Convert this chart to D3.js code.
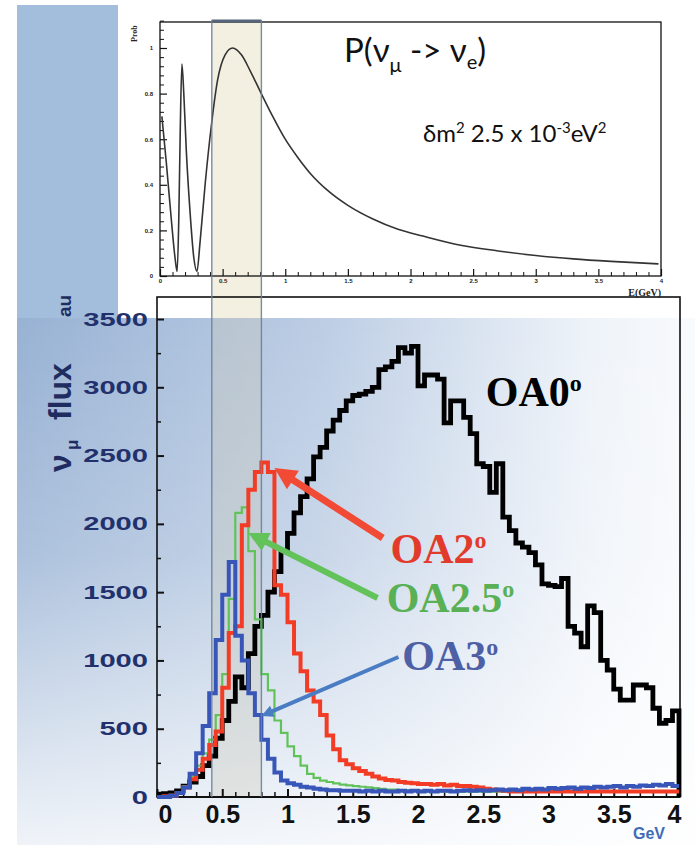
<!DOCTYPE html>
<meta charset="utf-8">
<script src="https://cdn.jsdelivr.net/npm/d3@7/dist/d3.min.js"></script>
<style>
body { margin: 0; background: #fff; }
path.histo { fill: none; stroke-linejoin: miter; }
.note { font-family: "Liberation Serif", "Times New Roman", serif; font-weight: bold; }
.tiny text { font-family: "Liberation Sans", Arial, sans-serif; font-size: 6px; font-weight: bold; fill: #222; }
</style>
<body>
<script>

// ---- data ----
var binWidth = 0.05;   // GeV per histogram bin, bins start at 0

var oa0Flux = [20,25,30,45,80,110,150,230,300,430,
  560,700,880,800,1050,1250,1330,1500,1650,1800,
  1930,2080,2200,2330,2490,2560,2680,2760,2830,2900,
  2940,2950,2970,3000,3130,3150,3190,3290,3250,3300,
  3010,3090,3090,3060,2740,2900,2900,2780,2660,2440,
  2420,2230,2440,2050,1950,1860,1830,1790,1700,1560,
  1550,1540,1600,1250,1200,1100,1400,1350,1000,930,
  790,710,710,820,820,800,650,540,560,630];

var oa2Flux = [0,5,10,30,70,130,200,280,380,480,
  800,1200,1250,1990,2250,2380,2450,2380,1550,1480,
  1280,1050,920,780,700,600,450,350,270,240,
  210,190,170,150,135,125,120,110,105,100,
  95,95,90,95,85,90,80,80,75,70,
  60,55,50,45,40,40,40,40,40,40,
  40,40,40,40,40,40,40,40,40,40,
  40,40,40,40,40,40,40,40,40,40];

var oa25Flux = [0,5,15,35,80,150,230,320,420,600,
  900,1450,2080,2120,1800,1300,900,780,560,470,
  370,300,230,170,140,120,110,100,90,85,
  80,75,70,65,60,55,55,50,50,45,
  45,40,40,40,40,40,40,40,40,40,
  40,40,40,40,40,40,40,40,40,40,
  40,40,40,40,40,40,40,40,40,40,
  40,40,40,40,40,40,40,40,40,40];

var oa3Flux = [0,0,10,30,70,170,320,520,760,1150,
  1480,1720,1180,1000,760,600,420,280,180,120,
  100,90,75,70,60,55,50,50,45,45,
  45,40,45,40,45,40,40,45,40,45,
  40,45,40,45,45,40,45,50,45,50,
  45,50,55,50,55,50,60,55,60,55,
  65,60,65,70,60,70,65,75,70,75,
  80,70,80,75,85,80,90,85,95,80];

var probEnergy = [0.015,0.05,0.09,0.12,0.137,0.15,0.162,0.175,0.19,0.21,0.24,0.27,0.295,0.32,0.36,
  0.41,0.46,0.52,0.58,0.65,0.72,0.80,0.90,1.0,1.1,1.2,1.35,1.5,1.7,1.9,2.1,2.4,2.7,3.0,3.3,3.6,3.98];
var probValue = [0.70,0.50,0.25,0.08,0.02,0.25,0.65,0.93,0.80,0.55,0.28,0.08,0.02,0.15,0.40,
  0.66,0.86,0.97,1.0,0.97,0.90,0.81,0.70,0.60,0.52,0.45,0.37,0.31,0.25,0.205,0.175,0.135,0.11,0.09,0.075,0.064,0.053];

var fluxTicks = [0,500,1000,1500,2000,2500,3000,3500];
var fluxTickLabels = ["0","500","1000","1500","2000","2500","3000","3500"];
var energyTicks = [0,0.5,1,1.5,2,2.5,3,3.5,4];
var energyTickLabels = ["0","0.5","1","1.5","2","2.5","3","3.5","4"];
var probTicks = [0,0.2,0.4,0.6,0.8,1];
var probTickLabels = ["0","0.2","0.4","0.6","0.8","1"];
var bandRange = [0.42, 0.80];   // GeV window marked on both panels

var seriesNames = ["OA0", "OA2.5", "OA2", "OA3"];
var seriesData = [oa0Flux, oa25Flux, oa2Flux, oa3Flux];
var seriesColors = ["#000000", "#62c25a", "#f23c25", "#3756b8"];
var seriesWidths = [4.8, 2.2, 4, 4];

var labelNames = ["OA0", "OA2", "OA2.5", "OA3"];
var labelColors = ["#000000", "#e23b2b", "#5ab054", "#4d5fa5"];
var labelEnergy = [2.52, 1.79, 1.76, 1.88];
var labelFlux = [2860, 1715, 1355, 930];
var arrowFrom = [[1.73, 1896], [1.69, 1457], [1.85, 1025]];
var arrowTo = [[0.90, 2409], [0.70, 1933], [0.80, 593]];
var arrowColors = ["#f24b35", "#63c25a", "#4a7cc3"];
var arrowWidths = [7, 6, 4];
var arrowHeads = [22, 20, 12];

// ---- layout ----
var width = 695, height = 845;

var xF = d3.scaleLinear().domain([0, 4]).range([157, 679]);
var yF = d3.scaleLinear().domain([0, 3500]).range([797, 319]);
var xP = d3.scaleLinear().domain([0, 4]).range([160, 661]);
var yP = d3.scaleLinear().domain([0, 1]).range([276, 48]);

var svg = d3.select("body").append("svg")
    .attr("width", width)
    .attr("height", height);

var defs = svg.append("defs");
var gh = defs.append("linearGradient").attr("id", "bgH")
    .attr("gradientUnits", "userSpaceOnUse")
    .attr("x1", 17).attr("y1", 0).attr("x2", 690).attr("y2", 0);
gh.append("stop").attr("offset", 0).attr("stop-color", "#98b2d4");
gh.append("stop").attr("offset", 0.45).attr("stop-color", "#bccde4");
gh.append("stop").attr("offset", 0.85).attr("stop-color", "#eef3f9");
gh.append("stop").attr("offset", 1).attr("stop-color", "#f8fafc");
var gv = defs.append("linearGradient").attr("id", "bgV")
    .attr("gradientUnits", "userSpaceOnUse")
    .attr("x1", 0).attr("y1", 318).attr("x2", 0).attr("y2", 845);
gv.append("stop").attr("offset", 0).attr("stop-color", "#fff").attr("stop-opacity", 0);
gv.append("stop").attr("offset", 0.45).attr("stop-color", "#fff").attr("stop-opacity", 0.2);
gv.append("stop").attr("offset", 1).attr("stop-color", "#fff").attr("stop-opacity", 0.85);

// backgrounds
svg.append("rect").attr("x", 17).attr("y", 5).attr("width", 101).attr("height", 313).attr("fill", "#a3bddc");
svg.append("rect").attr("x", 17).attr("y", 318).attr("width", 678).attr("height", 527).attr("fill", "url(#bgH)");
svg.append("rect").attr("x", 17).attr("y", 318).attr("width", 678).attr("height", 527).attr("fill", "url(#bgV)");

// energy window band
var bx0 = xF(bandRange[0]), bx1 = xF(bandRange[1]);
svg.append("rect").attr("x", bx0).attr("y", 20).attr("width", bx1 - bx0).attr("height", 298)
    .attr("fill", "#f3f0e1");
svg.append("rect").attr("x", bx0).attr("y", 318).attr("width", bx1 - bx0).attr("height", yF(0) - 318)
    .attr("fill", "#c9c7b3").attr("opacity", 0.32);

// ---- top panel: oscillation probability ----
svg.append("rect").attr("x", xP(0)).attr("y", 22).attr("width", xP(4) - xP(0)).attr("height", yP(0) - 22)
    .attr("fill", "none").attr("stroke", "#111").attr("stroke-width", 1.3);

var probMinor = d3.range(0.04, 1.13, 0.04).filter(function(d) { return Math.abs(d / 0.2 - Math.round(d / 0.2)) > 0.01; });
svg.append("g").attr("class", "tiny").attr("transform", "translate(" + xP(0) + ",0)")
    .call(d3.axisLeft(yP).tickValues(probMinor).tickSize(-4).tickFormat(""))
    .call(function(g) { g.select(".domain").remove(); g.selectAll("line").attr("stroke", "#111"); });
svg.append("g").attr("class", "tiny").attr("transform", "translate(" + xP(0) + ",0)")
    .call(d3.axisLeft(yP).tickValues(probTicks).tickSize(-7).tickPadding(7)
      .tickFormat(function(d, i) { return probTickLabels[i]; }))
    .call(function(g) { g.select(".domain").remove(); g.selectAll("line").attr("stroke", "#111").attr("stroke-width", 1.2); });

var eMinor = d3.range(0.1, 4, 0.1).filter(function(d) { return Math.abs(d / 0.5 - Math.round(d / 0.5)) > 0.01; });
svg.append("g").attr("class", "tiny").attr("transform", "translate(0," + yP(0) + ")")
    .call(d3.axisBottom(xP).tickValues(eMinor).tickSize(-4).tickFormat(""))
    .call(function(g) { g.select(".domain").remove(); g.selectAll("line").attr("stroke", "#111"); });
svg.append("g").attr("class", "tiny").attr("transform", "translate(0," + yP(0) + ")")
    .call(d3.axisBottom(xP).tickValues(energyTicks).tickSize(-7).tickPadding(3)
      .tickFormat(function(d, i) { return energyTickLabels[i]; }))
    .call(function(g) { g.select(".domain").remove(); g.selectAll("line").attr("stroke", "#111").attr("stroke-width", 1.2); });

svg.append("text").attr("transform", "translate(137,42) rotate(-90)")
    .attr("font-family", "Liberation Serif, serif").attr("font-weight", "bold").attr("font-size", 8)
    .attr("fill", "#222").text("Prob");
svg.append("text").attr("x", xP(4)).attr("y", 296).attr("text-anchor", "end")
    .attr("font-family", "Liberation Serif, serif").attr("font-weight", "bold").attr("font-size", 10)
    .attr("fill", "#222").text("E(GeV)");

var probLine = d3.line()
    .x(function(d, i) { return xP(probEnergy[i]); })
    .y(function(d, i) { return yP(probValue[i]); })
    .curve(d3.curveMonotoneX);
svg.append("path").datum(probEnergy).attr("d", probLine)
    .attr("fill", "none").attr("stroke", "#333").attr("stroke-width", 1.6);

var title = svg.append("text").attr("x", 344).attr("y", 62)
    .attr("font-family", "Lato, 'Open Sans', sans-serif").attr("font-size", 33).attr("fill", "#111");
title.append("tspan").text("P(\u03bd");
title.append("tspan").attr("font-size", 20).attr("dy", 10).text("\u03bc");
title.append("tspan").attr("dy", -10).text(" -> \u03bd");
title.append("tspan").attr("font-size", 20).attr("dy", 7).text("e");
title.append("tspan").attr("dy", -7).text(")");

var dm = svg.append("text").attr("x", 423).attr("y", 142)
    .attr("font-family", "Lato, 'Open Sans', sans-serif").attr("font-size", 24).attr("fill", "#111");
dm.append("tspan").text("\u03b4m");
dm.append("tspan").attr("font-size", 15).attr("dy", -9).text("2");
dm.append("tspan").attr("dy", 9).text(" 2.5 x 10");
dm.append("tspan").attr("font-size", 15).attr("dy", -9).text("-3");
dm.append("tspan").attr("dy", 9).text("eV");
dm.append("tspan").attr("font-size", 15).attr("dy", -9).text("2");

// ---- bottom panel: flux ----
svg.append("rect").attr("x", xF(0)).attr("y", 297).attr("width", xF(4) + 1 - xF(0)).attr("height", yF(0) - 297)
    .attr("fill", "none").attr("stroke", "#111").attr("stroke-width", 1.6);
svg.append("line").attr("x1", xF(0)).attr("x2", xF(4) + 1).attr("y1", yF(0)).attr("y2", yF(0))
    .attr("stroke", "#111").attr("stroke-width", 2.2);

svg.append("g").attr("transform", "translate(" + xF(0) + ",0)")
    .call(d3.axisLeft(yF).tickValues(d3.range(250, 3500, 500)).tickSize(-4).tickFormat(""))
    .call(function(g) { g.select(".domain").remove(); g.selectAll("line").attr("stroke", "#111").attr("stroke-width", 1.5); });
svg.append("g").attr("transform", "translate(" + xF(0) + ",0)")
    .call(d3.axisLeft(yF).tickValues(fluxTicks).tickSize(-7).tickPadding(9)
      .tickFormat(function(d, i) { return fluxTickLabels[i]; }))
    .call(function(g) {
      g.select(".domain").remove();
      g.selectAll("line").attr("stroke", "#111").attr("stroke-width", 2);
      g.selectAll("text")
        .attr("font-family", "Liberation Sans, Arial, sans-serif")
        .attr("font-weight", "bold").attr("font-size", 19).attr("fill", "#22306b")
        .attr("textLength", function() { return this.textContent.length * 16.2; })
        .attr("lengthAdjust", "spacingAndGlyphs");
    });

svg.append("g").attr("transform", "translate(0," + yF(0) + ")")
    .call(d3.axisBottom(xF).tickValues(eMinor).tickSize(-5).tickFormat(""))
    .call(function(g) { g.select(".domain").remove(); g.selectAll("line").attr("stroke", "#111").attr("stroke-width", 1.5); });
svg.append("g").attr("transform", "translate(0," + yF(0) + ")")
    .call(d3.axisBottom(xF).tickValues(energyTicks).tickSize(-8).tickPadding(8)
      .tickFormat(function(d, i) { return energyTickLabels[i]; }))
    .call(function(g) {
      g.select(".domain").remove();
      g.selectAll("line").attr("stroke", "#111").attr("stroke-width", 2);
      g.selectAll("text")
        .attr("font-family", "Liberation Sans, Arial, sans-serif")
        .attr("font-weight", "bold").attr("font-size", 25).attr("fill", "#111")
        .attr("dx", function(d, i) { return i === 0 ? 8 : (i === energyTicks.length - 1 ? -5 : 0); });
    });

svg.append("text").attr("x", 665).attr("y", 839).attr("text-anchor", "end")
    .attr("font-family", "Liberation Sans, Arial, sans-serif").attr("font-weight", "bold")
    .attr("font-size", 16).attr("fill", "#3f6cb5").text("GeV");

var ytitle = svg.append("text").attr("transform", "translate(71,472) rotate(-90)")
    .attr("font-family", "Liberation Sans, Arial, sans-serif").attr("font-weight", "bold")
    .attr("font-size", 32).attr("fill", "#1f2c5f");
ytitle.append("tspan").attr("x", 0).text("\u03bd");
ytitle.append("tspan").attr("x", 22).attr("dy", 7).attr("font-size", 17).text("\u03bc");
ytitle.append("tspan").attr("x", 52).attr("dy", -7).text("flux");
ytitle.append("tspan").attr("x", 155).attr("font-size", 19).text("au");

// histograms
var histLine = d3.line()
    .x(function(d) { return xF(d[0]); })
    .y(function(d) { return yF(d[1]); })
    .curve(d3.curveStepAfter);

seriesData.forEach(function(vals, s) {
  var pts = vals.map(function(v, i) { return [i * binWidth, v]; });
  pts.push([4, s === 0 ? 0 : vals[vals.length - 1]]);
  svg.append("path").attr("class", "histo").datum(pts).attr("d", histLine)
      .attr("stroke", seriesColors[s]).attr("stroke-width", seriesWidths[s])
      .attr("data-name", seriesNames[s]);
});

// band edges
svg.append("line").attr("x1", bx0).attr("x2", bx1).attr("y1", 21).attr("y2", 21)
    .attr("stroke", "#56657a").attr("stroke-width", 3);
[bx0, bx1].forEach(function(x) {
  svg.append("line").attr("x1", x).attr("x2", x).attr("y1", 20).attr("y2", yF(0))
      .attr("stroke", "#6b819c").attr("stroke-width", 1.4).attr("opacity", 0.9);
});

// arrows
arrowFrom.forEach(function(f, i) {
  var x0 = xF(f[0]), y0 = yF(f[1]), x1 = xF(arrowTo[i][0]), y1 = yF(arrowTo[i][1]);
  var dx = x1 - x0, dy = y1 - y0, len = Math.sqrt(dx * dx + dy * dy);
  var ux = dx / len, uy = dy / len, h = arrowHeads[i], w = h * 0.5;
  var bxh = x1 - ux * h, byh = y1 - uy * h;
  svg.append("line").attr("x1", x0).attr("y1", y0)
      .attr("x2", x1 - ux * h * 0.7).attr("y2", y1 - uy * h * 0.7)
      .attr("stroke", arrowColors[i]).attr("stroke-width", arrowWidths[i]);
  svg.append("path")
      .attr("d", "M" + x1 + "," + y1 + "L" + (bxh - uy * w) + "," + (byh + ux * w) +
                 "L" + (bxh + uy * w) + "," + (byh - ux * w) + "Z")
      .attr("fill", arrowColors[i]);
});

// series labels
labelNames.forEach(function(name, i) {
  var t = svg.append("text").attr("class", "note")
      .attr("x", xF(labelEnergy[i])).attr("y", yF(labelFlux[i]))
      .attr("font-size", 42).attr("fill", labelColors[i]);
  t.append("tspan").text(name);
  t.append("tspan").attr("font-size", 24).attr("dy", -15).text("o");
});

</script>
</body>
